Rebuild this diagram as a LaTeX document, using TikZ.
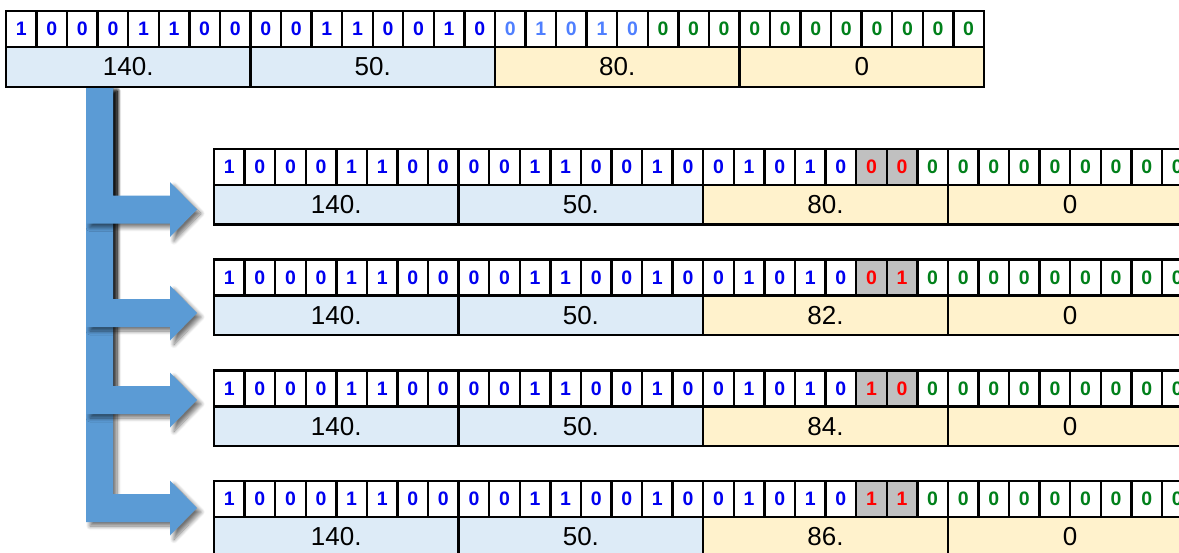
\documentclass[tikz,border=0pt]{standalone}
\usepackage{fontspec}
\setmainfont{Liberation Sans}
\usetikzlibrary{shadows.blur}
\definecolor{bitblue}{HTML}{0000F0}
\definecolor{bitlight}{HTML}{4F7FFF}
\definecolor{bitgreen}{HTML}{00801A}
\definecolor{bitred}{HTML}{FF0000}
\definecolor{subgray}{HTML}{C0C0C0}
\definecolor{octblue}{HTML}{DDEBF7}
\definecolor{octyellow}{HTML}{FFF2CC}
\definecolor{arrowblue}{HTML}{5B9BD5}
\newcommand\bitfnt{\fontsize{19.5}{20}\selectfont\bfseries}
\newcommand\octfnt{\fontsize{26}{28}\selectfont}
\begin{document}
\begin{tikzpicture}[x=1pt,y=-1pt,
  cellbase/.style={draw=black,line width=2.4pt,inner sep=0pt,outer sep=0pt,anchor=north west},
  bitcell/.style={cellbase,minimum width=30.56pt,minimum height=36pt,font=\bitfnt},
  octcell/.style={cellbase,minimum width=244.5pt,minimum height=39.5pt,font=\octfnt},
  bentarrow/.style={fill=arrowblue,draw=none,blur shadow={shadow xshift=4pt,shadow yshift=-4pt,shadow opacity=55,shadow blur steps=8,shadow blur radius=4pt}}]
\useasboundingbox (0,0) rectangle (1179,552);
\begin{scope}
\clip (0,0) rectangle (1179,552);
% ---------- bent arrows (longest first) ----------
\foreach \yc/\nm in {508/a4,400/a3,313/a2,209.5/a1}{
  \coordinate (\nm tip) at (197,\yc);
  \path[bentarrow] (86,87) -- (113,87) -- (113,\yc-14) -- (170,\yc-14) -- (170,\yc-27.5)
    -- (\nm tip) -- (170,\yc+27.5) -- (170,\yc+14) -- (86,\yc+14) -- cycle;
}
% ---------- top table ----------
\foreach \b [count=\i from 0] in {1,0,0,0,1,1,0,0,0,0,1,1,0,0,1,0,0,1,0,1,0,0,0,0,0,0,0,0,0,0,0,0}{
  \ifnum\i<16 \def\bc{bitblue}\else\ifnum\i<21 \def\bc{bitlight}\else\def\bc{bitgreen}\fi\fi
  \node[bitcell,text=\bc] (tb\i) at (6+30.56*\i,11) {\b};
}
\foreach \v/\f [count=\j from 0] in {140./octblue,50./octblue,80./octyellow,0/octyellow}{
  \node[octcell,fill=\f,minimum height=40pt] (to\j) at (6+244.5*\j,47) {\v};
}
% ---------- subnet tables ----------
\foreach \ba/\bb/\oc [count=\k from 1] in {0/0/80.,0/1/82.,1/0/84.,1/1/86.}{
  \pgfmathsetmacro\ty{149+110.67*(\k-1)}
  \foreach \b [count=\i from 0] in {1,0,0,0,1,1,0,0,0,0,1,1,0,0,1,0,0,1,0,1,0,\ba,\bb,0,0,0,0,0,0,0,0,0}{
    \ifnum\i<21 \def\bc{bitblue}\def\bf{white}\else\ifnum\i<23 \def\bc{bitred}\def\bf{subgray}\else\def\bc{bitgreen}\def\bf{white}\fi\fi
    \node[bitcell,text=\bc,fill=\bf] (s\k b\i) at (214+30.58*\i,\ty) {\b};
  }
  \foreach \v/\f [count=\j from 0] in {140./octblue,50./octblue,\oc/octyellow,0/octyellow}{
    \node[octcell,fill=\f] (s\k o\j) at (214+244.64*\j,\ty+36) {\v};
  }
}
\end{scope}
\end{tikzpicture}
\end{document}
